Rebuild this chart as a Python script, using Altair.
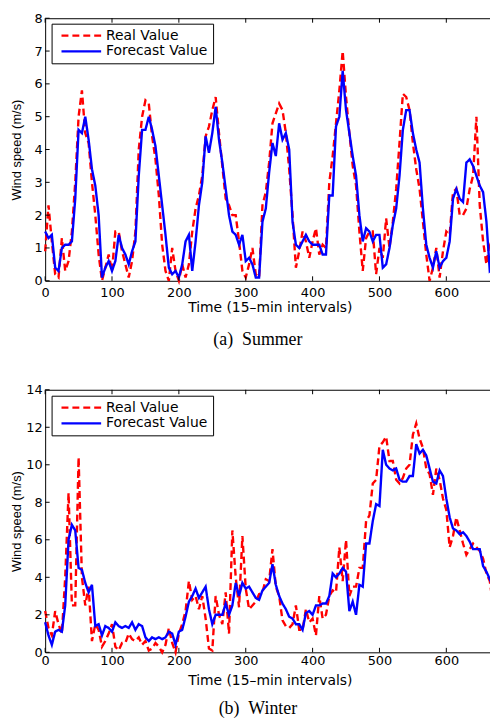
import altair as alt
import pandas as pd

# ---------------- data ----------------
time_index = list(range(0, 671, 5))  # 15-min interval index, every 5th sample

summer_real = [
    0.9, 2.3, 1.2, 0.2, 0.1, 1.3, 0.3, 0.6, 1.5, 3.0,
    5.0, 5.8, 4.5, 4.2, 3.0, 2.0, 0.8, 0.0, 0.4, 0.8,
    0.3, 1.5, 1.5, 0.9, 0.5, 0.1, 0.6, 1.5, 4.0, 5.0,
    5.5, 5.4, 4.4, 3.7, 2.6, 1.1, 0.3, 0.0, 1.0, 0.3,
    0.0, 0.5, 0.1, 0.5, 1.5, 2.2, 2.6, 3.2, 4.4, 4.7,
    5.2, 5.6, 4.5, 3.5, 2.5, 2.3, 2.0, 2.0, 1.2, 0.3,
    0.1, 0.5, 1.0, 0.2, 0.1, 2.3, 2.7, 3.6, 4.8, 5.1,
    5.4, 5.2, 4.5, 3.4, 2.0, 0.4, 0.9, 1.5, 1.2, 0.7,
    1.2, 1.6, 0.8, 1.1, 1.0, 3.0, 3.8, 4.8, 5.8, 7.0,
    5.6, 4.5, 3.5, 2.9, 1.5, 0.3, 1.3, 1.5, 1.5, 0.2,
    1.0, 0.7, 1.9, 1.0, 1.8, 2.8, 4.2, 5.7, 5.6, 5.2,
    4.2, 3.4, 2.8, 1.8, 0.8, 0.0, 0.4, 1.0, 0.1, 0.9,
    1.5, 1.4, 2.7, 2.8, 2.0, 2.0, 2.2, 2.8, 3.2, 5.0,
    2.3, 1.2, 0.5, 1.2, 1.0,
]

summer_forecast = [
    1.5, 1.3, 1.4, 0.4, 0.3, 1.0, 1.1, 1.1, 1.2, 2.5,
    4.6, 4.5, 5.0, 4.3, 3.4, 2.9, 2.0, 0.1, 0.4, 0.6,
    0.3, 0.6, 1.4, 1.0, 0.8, 0.5, 0.9, 1.2, 3.2, 4.6,
    4.6, 5.0, 4.6, 4.1, 3.2, 2.3, 1.4, 0.4, 0.2, 0.3,
    0.1, 0.5, 1.2, 1.4, 0.3, 1.2, 2.3, 3.0, 4.4, 3.9,
    4.5, 5.3, 4.3, 3.6, 2.8, 2.0, 1.5, 1.4, 1.1, 1.4,
    0.6, 0.7, 0.5, 0.1, 0.1, 1.8, 2.2, 3.3, 4.2, 3.8,
    4.8, 4.3, 4.5, 4.0, 1.8, 1.1, 1.0, 1.2, 1.4, 1.2,
    1.1, 1.1, 1.1, 0.8, 0.8, 2.6, 2.6, 4.7, 5.0, 6.4,
    5.2, 4.5, 3.8, 3.2, 2.0, 1.2, 1.6, 1.5, 1.2, 1.4,
    1.4, 0.4, 0.5, 1.0, 1.7, 2.2, 3.2, 4.6, 5.2, 5.2,
    4.5, 4.0, 3.6, 2.2, 1.1, 0.7, 0.4, 0.9, 0.4, 0.6,
    0.7, 1.2, 2.5, 2.8, 2.5, 2.4, 3.6, 3.7, 3.5, 3.2,
    2.9, 2.7, 1.8, 0.3, 0.4,
]

winter_real = [
    2.2, 1.3, 0.9, 2.2, 1.5, 1.0, 4.0, 8.5, 2.5, 2.5,
    10.4, 4.0, 2.5, 3.5, 0.6, 1.5, 1.2, 0.3, 0.6, 1.0,
    1.5, 0.3, 0.1, 0.5, 0.5, 1.0, 0.7, 0.6, 0.8, 0.4,
    0.6, 0.1, 0.2, 0.5, 0.3, 0.0, 0.4, 1.3, 0.5, 0.0,
    1.0, 1.5, 2.2, 3.8, 2.8, 3.0, 2.3, 3.0, 1.8, 0.2,
    0.1, 3.0, 2.0, 1.5, 3.2, 1.0, 6.5, 4.0, 2.4, 6.2,
    3.4, 2.3, 2.5, 2.7, 3.1, 3.2, 3.9, 3.8, 5.5, 3.5,
    3.0, 1.7, 1.4, 1.3, 1.5, 2.5, 1.2, 1.2, 2.3, 1.6,
    1.8, 0.9, 3.0, 1.8, 2.0, 3.0, 3.3, 3.2, 5.6, 3.8,
    6.0, 3.0, 3.5, 3.5, 4.5, 4.5, 7.0, 7.3, 9.0, 9.2,
    11.0, 11.2, 11.5, 10.2, 10.2, 9.2, 9.0, 9.3, 9.8, 10.0,
    11.6, 12.2, 11.4, 10.9, 9.8, 9.5, 8.4, 9.8, 9.2, 8.2,
    7.6, 5.6, 6.2, 7.2, 6.5, 5.8, 5.2, 5.5, 5.8, 5.6,
    5.4, 5.0, 4.2, 3.8, 2.5,
]

winter_forecast = [
    1.6, 0.9, 0.4, 1.1, 1.2, 1.1, 2.5, 6.0, 6.8, 6.5,
    4.5, 4.4, 3.7, 3.2, 3.6, 1.4, 1.5, 0.9, 1.4, 1.3,
    1.1, 1.6, 1.4, 1.3, 1.4, 1.3, 1.6, 1.2, 1.5, 1.4,
    0.8, 0.6, 0.8, 0.7, 0.8, 0.7, 0.8, 1.1, 1.0, 0.4,
    1.1, 1.2, 1.9, 2.7, 3.0, 3.4, 2.9, 3.2, 3.5, 2.3,
    1.5, 2.0, 2.0, 2.0, 2.6, 2.0, 2.5, 3.7, 3.0, 3.7,
    3.4, 3.5, 3.2, 2.9, 2.8, 3.3, 3.5, 3.7, 4.7, 3.6,
    3.0, 2.6, 2.3, 1.9, 1.8, 1.5, 1.5, 1.2, 2.1, 2.2,
    2.0, 2.5, 2.5, 2.6, 2.6, 3.0, 4.2, 4.0, 4.2, 4.5,
    4.3, 2.2, 2.7, 2.0, 3.6, 3.5, 5.8, 5.8, 7.0, 7.9,
    7.8, 10.8, 10.0, 9.8, 9.7, 9.8, 9.2, 9.1, 9.1, 9.4,
    9.4, 11.1, 10.6, 10.8, 10.5, 9.8, 9.1, 9.0, 9.7, 9.4,
    8.2, 7.2, 6.6, 6.5, 6.3, 6.4, 6.2, 5.9, 5.5, 5.5,
    5.5, 4.6, 4.3, 3.9, 3.5,
]

x_ticks = [0, 100, 200, 300, 400, 500, 600]
summer_y_ticks = [0, 1, 2, 3, 4, 5, 6, 7, 8]
winter_y_ticks = [0, 2, 4, 6, 8, 10, 12, 14]

series_names = ["Real Value", "Forecast Value"]
series_colors = ["#ff0000", "#0000ff"]
series_dashes = [[7, 4], [1, 0]]

x_title = "Time (15\u2013min intervals)"
y_title = "Wind speed (m/s)"

# ---------------- layout constants ----------------
W, H = 453.5, 265
X_MAX = 672
TICK = 4.5


def panel(real, forecast, y_max, y_ticks, caption, label_pad, title_pad,
          caption_offset, legend_y):
    n = len(time_index)
    df = pd.DataFrame({
        "t": time_index * 2,
        "v": real + forecast,
        "series": [series_names[0]] * n + [series_names[1]] * n,
    })
    xs = alt.Scale(domain=[0, X_MAX], nice=False, zero=False)
    ys = alt.Scale(domain=[0, y_max], nice=False, zero=False)

    leg = dict(
        orient="none", legendX=6.5, legendY=legend_y, title=None,
        symbolType="M-1,0L7,0", symbolSize=100, symbolStrokeWidth=2.3,
        symbolOffset=3, labelOffset=33,
        labelFont="DejaVu Sans", labelFontSize=14, labelColor="black",
        labelLimit=300, padding=5, rowPadding=2,
        strokeColor="black", fillColor="white", cornerRadius=0,
    )
    color = alt.Color("series:N",
                      scale=alt.Scale(domain=series_names, range=series_colors),
                      legend=alt.Legend(**leg))
    dash = alt.StrokeDash("series:N",
                          scale=alt.Scale(domain=series_names, range=series_dashes),
                          legend=alt.Legend(**leg))

    x_axis = alt.Axis(
        values=x_ticks, ticks=False, domain=False, grid=False,
        labelFont="DejaVu Sans", labelFontSize=13, labelColor="black",
        labelPadding=label_pad, labelFlush=False,
        title=x_title, titleFont="DejaVu Sans", titleFontSize=14,
        titleFontWeight="normal", titleColor="black", titlePadding=title_pad)
    y_axis = alt.Axis(
        values=y_ticks, ticks=False, domain=False, grid=False,
        labelFont="DejaVu Sans", labelFontSize=13, labelColor="black",
        labelPadding=3, labelFlush=False,
        title=y_title, titleFont="Liberation Sans", titleFontSize=13,
        titleFontWeight="normal", titleColor="black",
        titleX=-22, titleBaseline="bottom")
    x_enc = alt.X("t:Q", scale=xs, axis=x_axis)
    y_enc = alt.Y("v:Q", scale=ys, axis=y_axis)

    base = alt.Chart(df)
    real_line = base.transform_filter(
        alt.datum.series == series_names[0]
    ).mark_line(strokeWidth=2.4).encode(x=x_enc, y=y_enc, color=color, strokeDash=dash)
    fc_line = base.transform_filter(
        alt.datum.series == series_names[1]
    ).mark_line(strokeWidth=2.4).encode(x=x_enc, y=y_enc, color=color, strokeDash=dash)

    # inward-pointing tick marks on all four sides (MATLAB style box)
    xt = alt.Chart(pd.DataFrame({"t": x_ticks}))
    yt = alt.Chart(pd.DataFrame({"v": y_ticks}))
    bottom_ticks = xt.mark_rule(color="black", strokeWidth=1).encode(
        x=x_enc, y=alt.value(H), y2=alt.value(H - TICK))
    top_ticks = xt.mark_rule(color="black", strokeWidth=1).encode(
        x=x_enc, y=alt.value(0), y2=alt.value(TICK))
    left_ticks = yt.mark_rule(color="black", strokeWidth=1).encode(
        y=y_enc, x=alt.value(0), x2=alt.value(TICK))
    right_ticks = yt.mark_rule(color="black", strokeWidth=1).encode(
        y=y_enc, x=alt.value(W - TICK), x2=alt.value(W))

    return alt.layer(
        real_line, fc_line, bottom_ticks, top_ticks, left_ticks, right_ticks
    ).properties(
        width=W, height=H,
        title=alt.TitleParams(
            caption, orient="bottom", anchor="middle", frame="group",
            font="Liberation Serif", fontSize=18, fontWeight="normal",
            color="black", offset=caption_offset, dx=-12),
    )


p1 = panel(summer_real, summer_forecast, 8, summer_y_ticks,
           "(a)\u00a0\u00a0Summer", 6, 1, 17, 5.5)
p2 = panel(winter_real, winter_forecast, 14, winter_y_ticks,
           "(b)\u00a0\u00a0Winter", 2, 6, 13, 6)

# the plot box runs to the right edge of the page, as in the reference,
# where its right-hand border is cut off
chart = alt.vconcat(p1, p2, spacing=33).resolve_scale(
    x="independent", y="independent", color="independent", strokeDash="independent"
).resolve_legend(
    color="independent", strokeDash="independent"
).configure_view(
    stroke="black", strokeWidth=1
).properties(
    padding={"left": 1.5, "top": 0, "right": -8.5, "bottom": 0},
    background="white",
)

chart.save("out.html", embed_options={"renderer": "svg", "actions": False})
